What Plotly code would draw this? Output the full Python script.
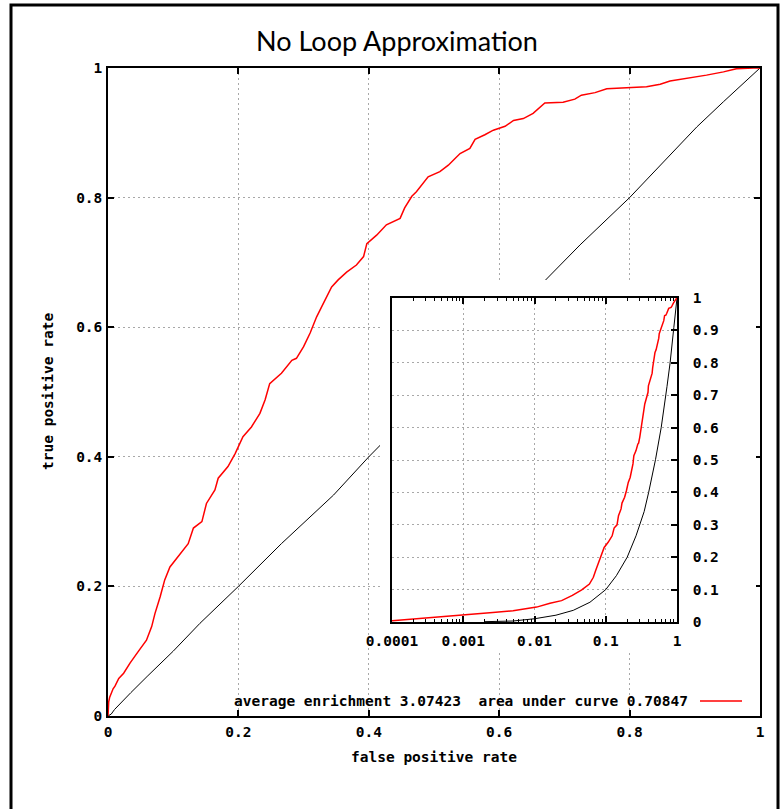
import plotly.graph_objects as go

# ---------------- data ----------------
roc_fpr = [0, 0.0001, 0.00017, 0.00025, 0.00059, 0.0011, 0.0026, 0.0050, 0.0078, 0.0107,
           0.0165, 0.024, 0.034, 0.046, 0.059, 0.067, 0.072, 0.080, 0.087, 0.095,
           0.108, 0.123, 0.131, 0.144, 0.151, 0.164, 0.169, 0.184, 0.195, 0.207,
           0.220, 0.233, 0.241, 0.248, 0.266, 0.282, 0.289, 0.300, 0.310, 0.320,
           0.328, 0.335, 0.343, 0.353, 0.366, 0.381, 0.392, 0.397, 0.412, 0.427,
           0.448, 0.455, 0.466, 0.473, 0.484, 0.491, 0.509, 0.522, 0.530, 0.540,
           0.555, 0.563, 0.578, 0.591, 0.609, 0.622, 0.637, 0.652, 0.670, 0.698,
           0.716, 0.726, 0.747, 0.765, 0.826, 0.847, 0.862, 0.890, 0.918, 0.944,
           0.964, 0.990, 1.0]
roc_tpr = [0, 0.004, 0.008, 0.011, 0.016, 0.022, 0.029, 0.035, 0.042, 0.046,
           0.058, 0.066, 0.082, 0.099, 0.117, 0.138, 0.158, 0.184, 0.210, 0.230,
           0.246, 0.266, 0.290, 0.300, 0.328, 0.349, 0.367, 0.385, 0.405, 0.431,
           0.446, 0.467, 0.488, 0.513, 0.529, 0.549, 0.552, 0.570, 0.591, 0.616,
           0.632, 0.645, 0.662, 0.673, 0.685, 0.696, 0.709, 0.729, 0.742, 0.758,
           0.768, 0.784, 0.802, 0.809, 0.822, 0.832, 0.840, 0.850, 0.858, 0.868,
           0.876, 0.890, 0.897, 0.904, 0.910, 0.919, 0.922, 0.930, 0.946, 0.947,
           0.952, 0.958, 0.962, 0.968, 0.971, 0.975, 0.980, 0.984, 0.989, 0.994,
           0.999, 1.0, 1.0]

base_fpr = [0, 0.002, 0.005, 0.010, 0.020, 0.035, 0.060, 0.100, 0.141, 0.200,
            0.266, 0.346, 0.400, 0.500, 0.600, 0.724, 0.800, 0.903, 0.944, 1.0]
base_tpr = [0, 0.001, 0.003, 0.010, 0.021, 0.036, 0.061, 0.100, 0.143, 0.200,
            0.266, 0.341, 0.400, 0.502, 0.600, 0.727, 0.800, 0.909, 0.948, 1.0]

title_text = "No Loop Approximation"
x_label = "false positive rate"
y_label = "true positive rate"
legend_text = "average enrichment 3.07423\u00a0 area under curve 0.70847"

main_ticks = [0, 0.2, 0.4, 0.6, 0.8, 1]
inset_x_ticks = [0.0001, 0.001, 0.01, 0.1, 1]
inset_x_labels = ["0.0001", "0.001", "0.01", "0.1", "1"]
inset_y_ticks = [0, 0.1, 0.2, 0.3, 0.4, 0.5, 0.6, 0.7, 0.8, 0.9, 1]
inset_y_labels = ["0", "0.1", "0.2", "0.3", "0.4", "0.5", "0.6", "0.7", "0.8", "0.9", "1"]

# ---------------- layout geometry (pixels) ----------------
W, H = 780, 809
L, R, T, B = 108, 760, 68, 716     # main plot area
PW, PH = R - L, B - T


def px_x(x):
    return (x - L) / PW


def px_y(y):
    return (B - y) / PH


tick_font = dict(family="DejaVu Sans Mono", size=14.5, color="black", weight="bold")
grid_col = "#a8a8a8"

fig = go.Figure()

# main curves
fig.add_trace(go.Scatter(x=base_fpr, y=base_tpr, mode="lines",
                         line=dict(color="black", width=1), xaxis="x", yaxis="y",
                         showlegend=False, hoverinfo="skip"))
fig.add_trace(go.Scatter(x=roc_fpr, y=roc_tpr, mode="lines",
                         line=dict(color="#ff0000", width=1.5), xaxis="x", yaxis="y",
                         showlegend=False))

# blank subplot that clears the area behind the inset
fig.add_trace(go.Scatter(x=[], y=[], xaxis="x2", yaxis="y2", showlegend=False,
                         hoverinfo="skip"))

# inset curves (log x, positive values only)
ib_x = [v for v in base_fpr if v > 0]
ib_y = [t for v, t in zip(base_fpr, base_tpr) if v > 0]
ir_x = [v for v in roc_fpr if v > 0]
ir_y = [t for v, t in zip(roc_fpr, roc_tpr) if v > 0]
fig.add_trace(go.Scatter(x=ib_x, y=ib_y, mode="lines",
                         line=dict(color="black", width=1), xaxis="x3", yaxis="y3",
                         showlegend=False, hoverinfo="skip"))
fig.add_trace(go.Scatter(x=ir_x, y=ir_y, mode="lines",
                         line=dict(color="#ff0000", width=1.5), xaxis="x3", yaxis="y3",
                         showlegend=False))

inset_minor = [m * 10 ** e for e in range(-4, 0) for m in range(2, 10)]

common_main = dict(range=[0, 1], tickvals=main_ticks, ticks="inside", ticklen=6,
                   tickwidth=1.5, tickcolor="black", showline=True, linecolor="black",
                   linewidth=1.5, mirror="ticks", showgrid=True, gridcolor=grid_col,
                   griddash="2px,3px", gridwidth=1, zeroline=False, tickfont=tick_font)

fig.update_layout(
    width=W, height=H,
    margin=dict(l=L, r=W - R, t=T, b=H - B, autoexpand=False),
    template="none",
    paper_bgcolor="white", plot_bgcolor="white",
    showlegend=False,
    title=dict(text=title_text, x=397 / W, xref="container",
               y=1 - 42 / H, yref="container", xanchor="center", yanchor="middle",
               font=dict(family="Lato", size=27, color="black")),
    xaxis=dict(domain=[0, 1], anchor="y", ticklabelstandoff=2, **common_main),
    yaxis=dict(domain=[0, 1], anchor="x", ticklabelstandoff=1, **common_main),
    xaxis2=dict(domain=[px_x(380), px_x(756)], anchor="y2", visible=False, range=[0, 1]),
    yaxis2=dict(domain=[px_y(653), px_y(280)], anchor="x2", visible=False, range=[0, 1]),
    xaxis3=dict(domain=[px_x(392), px_x(677)], anchor="y3", type="log", range=[-4, 0],
                tickmode="array", tickvals=inset_x_ticks, ticktext=inset_x_labels,
                ticks="inside", ticklen=6, tickwidth=1.5, tickcolor="black",
                minor=dict(tickmode="array", tickvals=inset_minor, ticks="inside",
                           ticklen=3, tickwidth=1, tickcolor="black", showgrid=False),
                showline=True, linecolor="black", linewidth=1.5, mirror="ticks",
                showgrid=True, gridcolor=grid_col, griddash="2px,3px", gridwidth=1,
                zeroline=False, tickfont=tick_font, ticklabelstandoff=5),
    yaxis3=dict(domain=[px_y(622), px_y(298)], anchor="x3", side="right", range=[0, 1],
                tickmode="array", tickvals=inset_y_ticks, ticktext=inset_y_labels,
                ticks="inside", ticklen=6, tickwidth=1.5, tickcolor="black",
                showline=True, linecolor="black", linewidth=1.5, mirror=True,
                showgrid=True, gridcolor=grid_col, griddash="2px,3px", gridwidth=1,
                zeroline=False, tickfont=tick_font, ticklabelstandoff=11),
)

ann_font = dict(family="DejaVu Sans Mono", size=14.5, color="black", weight="bold")
fig.add_annotation(text=x_label, x=0.5, y=px_y(757), xref="paper", yref="paper",
                   showarrow=False, xanchor="center", yanchor="middle", font=ann_font)
fig.add_annotation(text=y_label, x=px_x(48), y=0.5, xref="paper", yref="paper",
                   showarrow=False, xanchor="center", yanchor="middle", textangle=-90,
                   font=ann_font)
fig.add_annotation(text=legend_text, x=px_x(690), y=px_y(701), xref="paper", yref="paper",
                   showarrow=False, xanchor="right", yanchor="middle", font=ann_font)
fig.add_shape(type="line", xref="paper", yref="paper", x0=px_x(700), x1=px_x(742),
              y0=px_y(701), y1=px_y(701), line=dict(color="#ff0000", width=1.5))

# outer frame of the figure
fig.add_shape(type="rect", xref="paper", yref="paper", x0=px_x(11), x1=px_x(778),
              y0=px_y(815), y1=px_y(5), line=dict(color="black", width=3),
              fillcolor="rgba(0,0,0,0)", layer="above")

fig.write_html("out.html", config={"displayModeBar": False},
               post_script="document.body.style.margin='0';document.body.style.overflow='hidden';")
